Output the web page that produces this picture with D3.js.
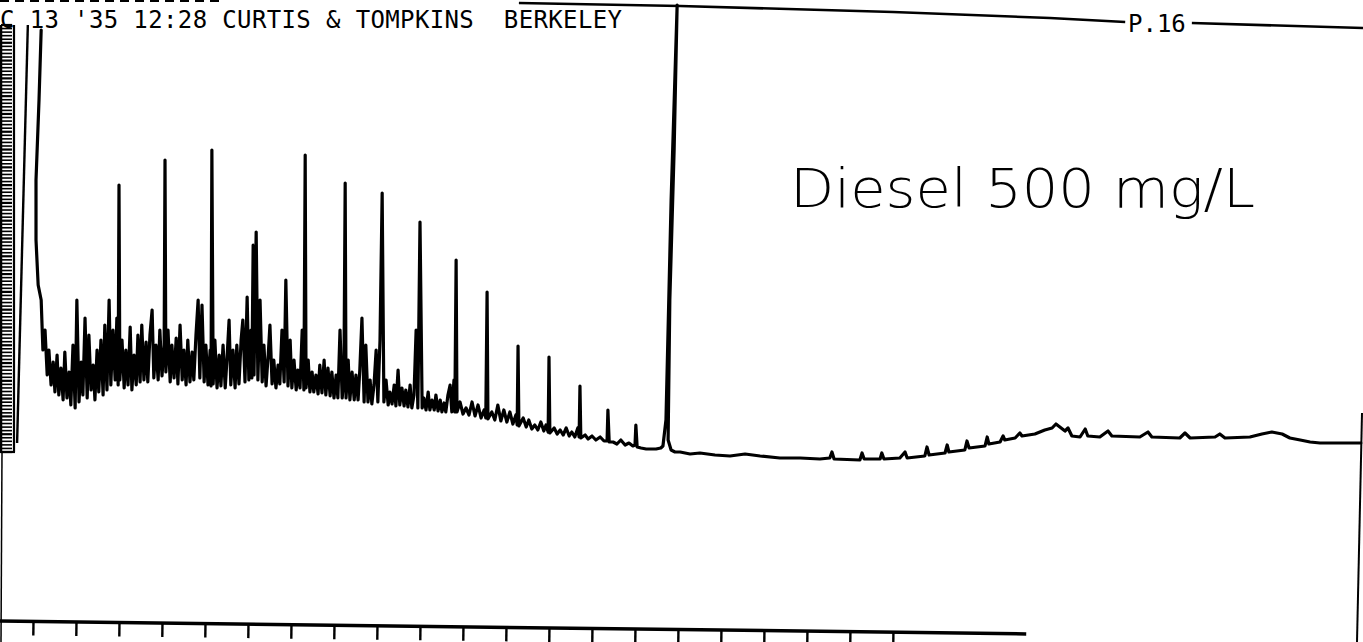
<!DOCTYPE html>
<html><head><meta charset="utf-8">
<script src="https://cdn.jsdelivr.net/npm/d3@7"></script>
<style>html,body{margin:0;padding:0;background:#fff;overflow:hidden} svg{display:block}</style>
</head><body>
<svg id="c" width="1363" height="642"></svg>
<script>
// ---------- text ----------
const headerText = "C 13 '35 12:28 CURTIS & TOMPKINS  BERKELEY";
const pageLabel = "P.16";
const annotation = "Diesel 500 mg/L";

// ---------- axis ticks (minutes) ----------
const timeTicks = d3.range(0, 21);
const rulerTicks = d3.range(0, 121);

// ---------- chromatogram trace: [retention time (min), response (mV)] ----------
const trace = [
[0.19,43.0],[0.14,36.0],[0.07,28.0],[0.07,22.0],[0.12,17.5],[0.19,16.0],[0.23,11.0],[0.28,13.0],
[0.33,8.5],[0.37,11.0],[0.42,7.5],[0.47,9.8],[0.51,6.8],[0.56,10.5],[0.60,6.5],[0.65,9.2],
[0.70,6.0],[0.74,10.8],[0.79,6.2],[0.84,8.8],[0.88,5.5],[0.93,11.5],[0.98,5.2],[1.02,16.0],
[1.07,5.8],[1.12,9.8],[1.16,6.5],[1.21,14.2],[1.26,6.2],[1.30,12.5],[1.35,7.0],[1.40,9.5],
[1.44,6.0],[1.49,11.0],[1.53,6.8],[1.58,12.0],[1.63,6.5],[1.67,13.5],[1.72,7.0],[1.77,16.0],
[1.81,7.5],[1.86,13.0],[1.91,8.0],[1.95,14.2],[1.98,7.5],[2.00,27.5],[2.02,8.0],[2.07,12.0],
[2.12,7.2],[2.16,11.0],[2.21,7.5],[2.26,13.3],[2.30,7.0],[2.35,10.5],[2.40,7.5],[2.44,12.5],
[2.49,7.8],[2.53,13.5],[2.58,8.0],[2.63,11.8],[2.67,7.8],[2.72,12.5],[2.77,15.0],[2.81,8.2],
[2.86,11.5],[2.91,8.0],[2.95,13.0],[3.00,8.4],[3.05,11.5],[3.07,30.0],[3.09,8.8],[3.14,13.0],
[3.19,7.8],[3.23,11.5],[3.28,8.2],[3.33,12.2],[3.37,7.6],[3.42,13.5],[3.47,8.0],[3.51,11.0],
[3.56,7.5],[3.60,12.0],[3.65,7.8],[3.70,10.8],[3.74,8.0],[3.79,12.5],[3.84,16.0],[3.88,8.2],
[3.93,15.5],[3.98,7.8],[4.02,11.5],[4.07,7.5],[4.12,11.0],[4.14,7.4],[4.16,31.0],[4.19,7.6],
[4.23,12.0],[4.28,7.2],[4.33,10.5],[4.37,7.4],[4.42,11.5],[4.47,7.2],[4.51,10.0],[4.56,14.0],
[4.60,7.5],[4.65,11.0],[4.70,7.2],[4.74,11.5],[4.79,7.6],[4.84,12.0],[4.88,14.0],[4.93,7.8],
[4.98,16.3],[5.02,8.0],[5.07,13.0],[5.09,8.2],[5.12,21.5],[5.14,8.5],[5.19,22.8],[5.23,8.0],
[5.28,16.0],[5.33,7.8],[5.37,11.5],[5.42,7.4],[5.47,10.5],[5.51,13.5],[5.56,7.6],[5.60,10.0],
[5.65,7.2],[5.70,9.5],[5.74,7.6],[5.79,13.0],[5.84,7.8],[5.88,18.0],[5.93,7.4],[5.98,12.0],
[6.02,7.2],[6.07,10.0],[6.12,7.0],[6.16,9.0],[6.21,7.2],[6.26,13.0],[6.30,7.0],[6.33,30.5],
[6.35,7.2],[6.40,10.0],[6.44,6.8],[6.49,8.8],[6.53,6.8],[6.58,8.5],[6.63,6.6],[6.67,9.5],
[6.72,6.7],[6.77,10.0],[6.81,6.5],[6.86,9.2],[6.91,6.4],[6.95,8.8],[7.00,6.2],[7.05,8.5],
[7.09,6.2],[7.14,13.0],[7.19,6.2],[7.23,8.0],[7.26,27.7],[7.28,6.2],[7.33,10.0],[7.37,6.0],
[7.42,8.8],[7.47,6.0],[7.51,8.5],[7.56,6.0],[7.60,9.0],[7.65,14.2],[7.70,5.8],[7.74,11.5],
[7.79,5.8],[7.84,8.0],[7.88,5.6],[7.93,7.5],[7.98,11.0],[8.02,5.8],[8.07,12.0],[8.12,26.7],
[8.16,5.8],[8.21,8.0],[8.26,5.5],[8.30,6.8],[8.35,5.6],[8.40,7.5],[8.44,5.4],[8.49,9.0],
[8.53,5.5],[8.58,7.2],[8.63,5.4],[8.67,7.0],[8.72,5.3],[8.77,7.5],[8.81,5.2],[8.86,6.5],
[8.91,13.0],[8.95,5.2],[9.00,23.8],[9.05,5.2],[9.09,6.2],[9.14,5.0],[9.19,6.8],[9.23,5.0],
[9.28,6.0],[9.33,5.0],[9.37,6.5],[9.42,4.9],[9.47,6.0],[9.51,4.8],[9.56,5.7],[9.60,4.8],
[9.65,6.5],[9.70,7.5],[9.74,4.8],[9.79,8.0],[9.81,4.8],[9.84,20.0],[9.86,4.8],[9.93,5.8],
[10.00,4.6],[10.07,5.2],[10.14,4.5],[10.21,5.8],[10.28,4.4],[10.35,5.5],[10.42,4.2],[10.49,5.0],
[10.53,4.2],[10.56,16.8],[10.58,4.1],[10.67,4.8],[10.74,4.0],[10.81,5.5],[10.88,3.9],[10.95,5.0],
[11.02,3.8],[11.09,4.8],[11.16,3.6],[11.23,4.5],[11.26,3.5],[11.28,11.4],[11.30,3.4],[11.40,4.2],
[11.47,3.3],[11.53,4.0],[11.60,3.1],[11.67,3.5],[11.74,3.0],[11.81,3.8],[11.88,2.9],[11.93,3.5],
[11.98,2.8],[12.00,10.3],[12.02,2.7],[12.12,3.2],[12.19,2.6],[12.26,3.0],[12.33,2.5],[12.40,3.2],
[12.47,2.4],[12.53,2.8],[12.60,2.3],[12.67,3.2],[12.70,2.3],[12.72,7.4],[12.74,2.2],[12.84,2.5],
[12.91,2.1],[13.00,2.4],[13.09,2.0],[13.19,2.3],[13.28,1.9],[13.35,1.9],[13.37,5.0],[13.40,1.8],
[13.49,1.8],[13.58,1.6],[13.67,2.0],[13.77,1.5],[13.86,1.7],[13.95,1.4],[14.00,1.5],[14.02,3.5],
[14.05,1.3],[14.14,1.2],[14.26,1.1],[14.37,1.1],[14.49,1.1],[14.60,1.2],[14.65,1.4],[14.72,4.0],
[14.84,26.0],[14.98,45.5],[14.91,31.0],[14.81,16.0],[14.77,2.0],[14.84,1.0],[14.93,0.8],[15.05,0.8],
[15.28,0.6],[15.51,0.7],[15.86,0.5],[16.21,0.4],[16.56,0.6],[16.91,0.4],[17.37,0.2],[17.84,0.2],
[18.30,0.1],[18.53,0.2],[18.58,0.8],[18.63,0.1],[19.23,0.0],[19.28,0.7],[19.33,0.1],[19.70,0.1],
[19.74,0.7],[19.79,0.1],[20.16,0.2],[20.28,0.8],[20.33,0.2],[20.74,0.4],[20.79,1.3],[20.84,0.5],
[21.21,0.7],[21.26,1.5],[21.30,0.8],[21.67,1.0],[21.72,1.9],[21.77,1.2],[22.14,1.4],[22.19,2.3],
[22.23,1.6],[22.49,1.8],[22.56,2.4],[22.60,2.0],[22.84,2.2],[22.95,2.7],[23.00,2.4],[23.30,2.6],
[23.53,3.0],[23.70,3.2],[23.79,3.6],[23.88,3.3],[24.00,2.9],[24.07,3.2],[24.16,2.4],[24.35,2.3],
[24.47,3.1],[24.53,2.4],[24.81,2.3],[25.00,2.9],[25.09,2.4],[25.74,2.3],[25.93,2.8],[26.02,2.3],
[26.67,2.2],[26.79,2.7],[26.91,2.2],[27.49,2.3],[27.60,2.6],[27.72,2.2],[28.30,2.3],[28.58,2.6],
[28.81,2.8],[29.05,2.6],[29.23,2.2],[29.47,2.0],[29.70,1.8],[29.93,1.7],[30.40,1.7],[30.88,1.7]
];

// injection marker pen stroke
const injectMarker = [[-0.12, 43.5], [-0.37, 1.7]];
// top border of the chart paper (two pieces around the page label)
const topBorderLeft  = [[11.3, 45.7], [15.05, 45.4], [20.0, 44.8], [23.65, 44.2], [25.40, 43.8]];
const topBorderRight = [[26.95, 43.7], [30.93, 43.2]];

// ---------- scales ----------
const W = 1363, H = 642;
const xScale = d3.scaleLinear().domain([0, 30]).range([33, 1323]);
const yScale = d3.scaleLinear().domain([0, 46]).range([460, 0]);
const rulerScale = d3.scaleLinear().domain([0, 120]).range([452, 25]);

const svg = d3.select("#c");
svg.append("rect").attr("width", W).attr("height", H).attr("fill", "#fff");

const ink = "#000";
const line = d3.line().x(d => xScale(d[0])).y(d => yScale(d[1]));

// ---------- header texts ----------
const mono = "'DejaVu Sans Mono', 'Liberation Mono', monospace";
// fragments of the previous printed line, cut off at the top edge
svg.append("line").attr("x1", 0).attr("x2", 225).attr("y1", 1).attr("y2", 1)
  .attr("stroke", ink).attr("stroke-width", 2).attr("stroke-dasharray", "9 6");
svg.append("text").attr("x", 0).attr("y", 28)
  .attr("font-family", mono).attr("font-size", 24).attr("fill", ink)
  .style("white-space", "pre")
  .attr("textLength", 622).attr("lengthAdjust", "spacing")
  .text(headerText);
svg.append("text").attr("x", 1128).attr("y", 32)
  .attr("font-family", mono).attr("font-size", 24).attr("fill", ink)
  .text(pageLabel);

// top border lines
svg.append("path").datum(topBorderLeft).attr("d", line)
  .attr("fill", "none").attr("stroke", ink).attr("stroke-width", 2.6);
svg.append("path").datum(topBorderRight).attr("d", line)
  .attr("fill", "none").attr("stroke", ink).attr("stroke-width", 2.6);

// ---------- left ruler ----------
const ruler = svg.append("g");
ruler.selectAll("line.rt").data(rulerTicks).join("line").attr("class", "rt")
  .attr("x1", 1).attr("x2", 12)
  .attr("y1", d => rulerScale(d)).attr("y2", d => rulerScale(d))
  .attr("stroke", ink).attr("stroke-width", d => d % 5 === 0 ? 2.2 : 1.6);
ruler.append("line").attr("x1", 1).attr("x2", 1)
  .attr("y1", rulerScale(120)).attr("y2", rulerScale(0)).attr("stroke", ink).attr("stroke-width", 2.5);
ruler.append("line").attr("x1", 14).attr("x2", 14)
  .attr("y1", rulerScale(120)).attr("y2", rulerScale(0)).attr("stroke", ink).attr("stroke-width", 2.2);
ruler.append("line").attr("x1", 0).attr("x2", 15)
  .attr("y1", rulerScale(0)).attr("y2", rulerScale(0)).attr("stroke", ink).attr("stroke-width", 2.2);
// left paper edge below ruler
svg.append("line").attr("x1", 2).attr("x2", 1).attr("y1", rulerScale(0)).attr("y2", H)
  .attr("stroke", ink).attr("stroke-width", 1.5);

// injection marker
svg.append("path").datum(injectMarker).attr("d", line)
  .attr("fill", "none").attr("stroke", ink).attr("stroke-width", 2.4);

// ---------- trace ----------
svg.append("path").datum(trace).attr("d", line)
  .attr("fill", "none").attr("stroke", ink).attr("stroke-width", 3.2)
  .attr("stroke-linejoin", "round").attr("stroke-linecap", "round");

// right paper edge
svg.append("line").attr("x1", 1362).attr("x2", 1357).attr("y1", 413).attr("y2", H)
  .attr("stroke", ink).attr("stroke-width", 2);

// ---------- bottom time axis (slightly skewed, as scanned) ----------
const axisG = svg.append("g").attr("transform", "translate(0,621) rotate(0.72)");
axisG.call(d3.axisBottom(xScale).tickValues(timeTicks).tickSize(14).tickSizeOuter(0).tickFormat(""))
  .call(g => g.select(".domain").remove())
  .call(g => g.selectAll(".tick line").attr("stroke", ink).attr("stroke-width", 2.4));
axisG.append("line").attr("x1", xScale(-0.77)).attr("x2", xScale(23.1)).attr("y1", 0).attr("y2", 0)
  .attr("stroke", ink).attr("stroke-width", 3.5);

// ---------- handwritten annotation ----------
svg.append("text").attr("x", 790).attr("y", 207)
  .attr("font-family", "'DejaVu Sans', 'Noto Sans', sans-serif").attr("font-weight", 200)
  .attr("font-size", 54).attr("fill", ink)
  .attr("textLength", 465).attr("lengthAdjust", "spacingAndGlyphs")
  .text(annotation);
</script>
</body></html>
